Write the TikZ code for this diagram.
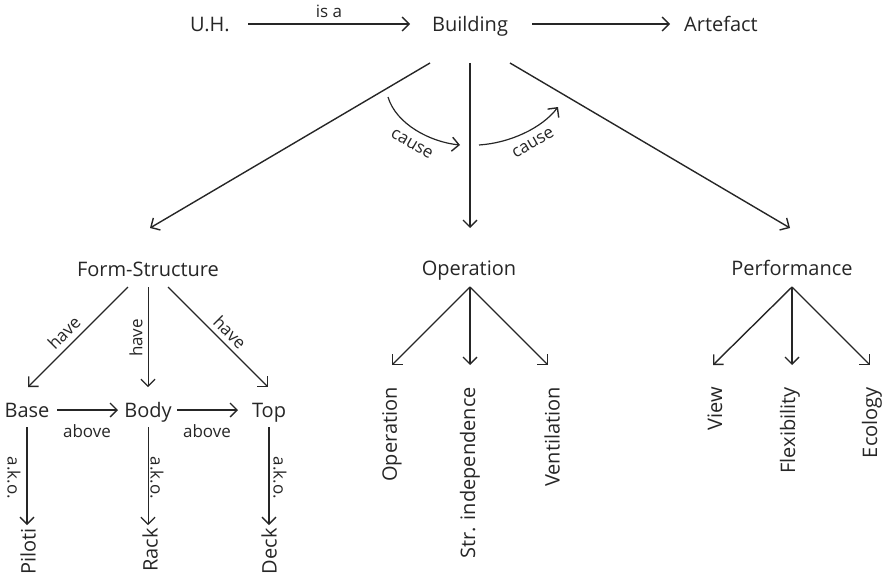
\documentclass[tikz,border=0pt]{standalone}
\usepackage{fontspec}
\setmainfont{Open Sans}
\usetikzlibrary{arrows.meta}
\definecolor{ink}{HTML}{262626}
\begin{document}
\begin{tikzpicture}[x=1pt,y=-1pt,
  lbl/.style={font=\fontsize{20}{24}\selectfont, text=ink, inner sep=0pt},
  sml/.style={font=\fontsize{17}{20}\selectfont, text=ink, inner sep=0pt},
  arr/.style={draw=ink, line width=1.4pt, -{Straight Barb[length=7pt,width=14pt,line width=1.4pt]}},
  tarr/.style={draw=ink, line width=0.8pt, -{Straight Barb[length=7pt,width=14pt,line width=1.2pt]}},
  vert/.style={lbl, rotate=90, anchor=east},
]
\useasboundingbox (0,0) rectangle (892,578);

% top row
\node[lbl, anchor=base] (uh)  at (210,32) {U.H.};
\node[lbl, anchor=base] (bld) at (470,32) {Building};
\node[lbl, anchor=base] (art) at (721,32) {Artefact};
\coordinate (uhE) at (248,24);  \coordinate (bldW) at (410,24);
\coordinate (bldE) at (532,24); \coordinate (artW) at (670,24);
\draw[arr] (uhE) -- node[sml, above=6pt] {is a} (bldW);
\draw[arr] (bldE) -- (artW);

% second level
\node[lbl, anchor=base] (fs)   at (148,276) {Form-Structure};
\node[lbl, anchor=base] (op)   at (469,275) {Operation};
\node[lbl, anchor=base] (perf) at (792,275) {Performance};

\coordinate (bL) at (430,63); \coordinate (bM) at (470,63); \coordinate (bR) at (510,63);
\coordinate (fsN) at (150,228); \coordinate (opN) at (470,228); \coordinate (pfN) at (790,228);
\draw[arr] (bL) -- (fsN);
\draw[arr] (bM) -- (opN);
\draw[arr] (bR) -- (pfN);

% cause arcs
\coordinate (c1s) at (388,97);  \coordinate (c1e) at (460,145);
\coordinate (c2s) at (479,145); \coordinate (c2e) at (558,107);
\draw[arr, line width=1.2pt] (c1s) .. controls (396,124) and (430,142) .. (c1e);
\draw[arr, line width=1.2pt] (c2s) .. controls (510,143) and (542,128) .. (c2e);
\node[sml, rotate=-30] (cause1) at (412,144) {cause};
\node[sml, rotate=30]  (cause2) at (533,143) {cause};

% Form-Structure subtree
\node[lbl, anchor=base] (base) at (27,417)  {Base};
\node[lbl, anchor=base] (body) at (148,417) {Body};
\node[lbl, anchor=base] (top)  at (269,417) {Top};
\coordinate (fsL) at (128,287); \coordinate (fsM) at (148,287); \coordinate (fsR) at (168,287);
\coordinate (baseN) at (28,387); \coordinate (bodyN) at (148,387); \coordinate (topN) at (268,387);
\draw[arr] (fsL) -- (baseN);
\draw[tarr] (fsM) -- (bodyN);
\draw[arr] (fsR) -- (topN);
\node[sml, rotate=45]  (have1) at (64,333)  {have};
\node[sml, rotate=90]  (have2) at (136,338) {have};
\node[sml, rotate=-45] (have3) at (230,332) {have};

\coordinate (baseE) at (57,410);  \coordinate (bodyW) at (118,410);
\coordinate (bodyE) at (177,410); \coordinate (topW) at (238,410);
\draw[arr] (baseE) -- (bodyW);
\draw[arr] (bodyE) -- (topW);
\node[sml, anchor=base] (above1) at (87,437)  {above};
\node[sml, anchor=base] (above2) at (207,437) {above};

\node[vert] (piloti) at (28,528)  {Piloti};
\node[vert] (rack)   at (150,528) {Rack};
\node[vert] (deck)   at (269,528) {Deck};
\coordinate (baseS) at (27,427); \coordinate (bodyS) at (148,427); \coordinate (topS) at (269,427);
\coordinate (pilN) at (27,525);  \coordinate (rackN) at (148,525); \coordinate (deckN) at (269,525);
\draw[arr] (baseS) -- (pilN);
\draw[tarr] (bodyS) -- (rackN);
\draw[arr] (topS) -- (deckN);
\node[sml, rotate=-90] (ako1) at (14,478)  {a.k.o.};
\node[sml, rotate=-90] (ako2) at (157,478) {a.k.o.};
\node[sml, rotate=-90] (ako3) at (280,478) {a.k.o.};

% Operation subtree
\coordinate (opS) at (470,287);
\coordinate (o1) at (392,365); \coordinate (o2) at (470,365); \coordinate (o3) at (548,365);
\draw[arr] (opS) -- (o1);
\draw[arr] (opS) -- (o2);
\draw[arr] (opS) -- (o3);
\node[vert] (oper) at (392,387) {Operation};
\node[vert] (str)  at (470,387) {Str. independence};
\node[vert] (vent) at (552,387) {Ventilation};

% Performance subtree
\coordinate (pfS) at (792,287);
\coordinate (p1) at (713,365); \coordinate (p2) at (792,365); \coordinate (p3) at (870,365);
\draw[arr] (pfS) -- (p1);
\draw[arr] (pfS) -- (p2);
\draw[arr] (pfS) -- (p3);
\node[vert] (view) at (715,387) {View};
\node[vert] (flex) at (790,387) {Flexibility};
\node[vert] (eco)  at (872,387) {Ecology};
\end{tikzpicture}
\end{document}
